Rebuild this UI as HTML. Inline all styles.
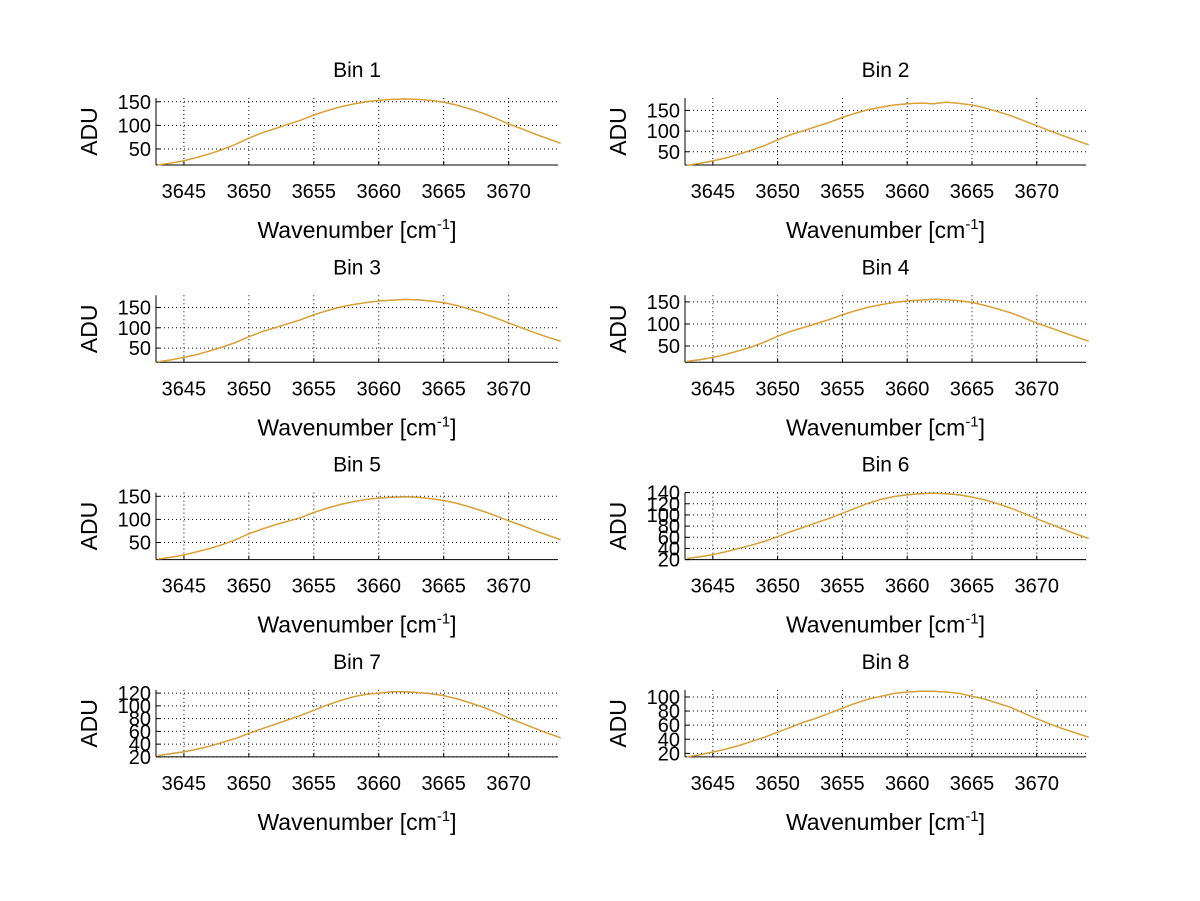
<!DOCTYPE html>
<html><head><meta charset="utf-8"><style>
body{margin:0;background:#fff;}
svg{display:block;font-family:"Liberation Sans",Arial,sans-serif;}
</style></head><body>
<svg id="fig" width="1200" height="901"></svg>
<script>
const wavenumbers=[3643,3644,3645,3646,3647,3648,3649,3650,3651,3652,3653,3654,3655,3656,3657,3658,3659,3660,3661,3662,3663,3664,3665,3666,3667,3668,3669,3670,3671,3672,3673,3674];
const bin1=[16,20,25,32,40,49,60,73,84,93,102,111,122,131,139,145,150,153,155,156,155,153,149,143,135,126,115,103,93,82,72,62];
const bin2=[17,22,28,35,44,54,65,79,91,101,111,121,133,143,152,158,163,166,168,166,170,167,163,156,147,137,125,113,101,89,78,67];
const bin3=[16,21,27,34,43,53,64,78,90,100,110,120,132,142,151,157,162,166,168,170,169,166,162,155,146,136,124,112,100,88,77,67];
const bin4=[15,19,24,31,39,48,59,72,83,92,101,110,121,130,138,144,149,152,154,156,155,153,149,142,134,125,114,102,92,81,71,61];
const bin5=[14,18,23,30,37,46,56,69,79,88,96,104,115,124,132,138,143,146,148,149,148,145,141,135,127,118,108,97,87,76,66,56];
const bin6=[22,25,29,34,40,46,53,61,70,78,86,94,103,112,121,128,133,136,138,139,138,136,132,127,120,112,103,93,84,75,66,58];
const bin7=[22,25,28,32,37,43,49,57,64,71,78,85,93,101,108,114,118,120,122,122,121,119,116,111,105,98,90,81,73,65,57,50];
const bin8=[15,18,22,26,31,37,43,50,57,64,70,77,84,91,97,101,105,107,108,108,107,105,101,97,91,85,77,69,62,55,49,43];
const seriesList=[bin1,bin2,bin3,bin4,bin5,bin6,bin7,bin8];
const yMins=[16,18,15,13,13,20,20,15];
const yMaxs=[158,180,180,165,158,140,125,110];
const yTicks=[[50,100,150],[50,100,150],[50,100,150],[50,100,150],[50,100,150],[20,40,60,80,100,120,140],[20,40,60,80,100,120],[20,40,60,80,100]];
const xTicks=[3645,3650,3655,3660,3665,3670];
const xMin=3642.85, xMax=3673.8;

const NS="http://www.w3.org/2000/svg";
const svg=document.getElementById('fig');
function mk(tag,attrs,parent){const e=document.createElementNS(NS,tag);for(const k in attrs)e.setAttribute(k,attrs[k]);(parent||svg).appendChild(e);return e;}

for(let i=0;i<8;i++){
  const col=i%2,row=Math.floor(i/2);
  const L=col?685:156, R=col?1086:558, T=98+row*197.3, B=T+67;
  const g=mk('g',{});
  
  
  const sx=v=>L+(v-xMin)/(xMax-xMin)*(R-L);
  const sy=v=>B-(v-yMins[i])/(yMaxs[i]-yMins[i])*(B-T);
  xTicks.forEach(t=>{const x=sx(t);mk('line',{x1:x,x2:x,y1:T,y2:B,stroke:'#000','stroke-width':1,'stroke-dasharray':'1,3'},g);
    mk('line',{x1:x,x2:x,y1:B,y2:B-4,stroke:'#000'},g);
    const tx=mk('text',{x:x,y:B+33,'text-anchor':'middle','font-size':20},g);tx.textContent=t;
    
    });
  yTicks[i].forEach(t=>{const y=sy(t);mk('line',{x1:L,x2:R,y1:y,y2:y,stroke:'#000','stroke-width':1,'stroke-dasharray':'1,3'},g);
    mk('line',{x1:L,x2:L+4,y1:y,y2:y,stroke:'#000'},g);
    const tx=mk('text',{x:L-5,y:y+7,'text-anchor':'end','font-size':20},g);tx.textContent=t;
    
    });
  mk('line',{x1:L,x2:L,y1:T,y2:B,stroke:'#000'},g);
  mk('line',{x1:L,x2:R,y1:B,y2:B,stroke:'#000'},g);
  const pts=wavenumbers.map((w,k)=>sx(w).toFixed(1)+','+sy(seriesList[i][k]).toFixed(1)).join(' ');
  const pl2=mk('polyline',{points:pts,fill:'none',stroke:'#3a7a6a','stroke-width':1.3},g);
  
  
  const pl=mk('polyline',{points:pts,fill:'none',stroke:'#f0a020','stroke-width':1.2},g);
  
  
  const ti=mk('text',{x:(L+R)/2,y:T-21,'text-anchor':'middle','font-size':21},g);ti.textContent='Bin '+(i+1);
  
  
  const xl=mk('text',{x:(L+R)/2,y:B+73,'text-anchor':'middle','font-size':23},g);
  xl.innerHTML='Wavenumber [cm<tspan dy="-9" font-size="15">-1</tspan><tspan dy="9">]</tspan>';
  
  
  const yl=mk('text',{x:0,y:0,'text-anchor':'middle','font-size':23,transform:`translate(${L-59},${(T+B)/2}) rotate(-90)`},g);yl.textContent='ADU';
  
  
}
</script>
</body></html>
